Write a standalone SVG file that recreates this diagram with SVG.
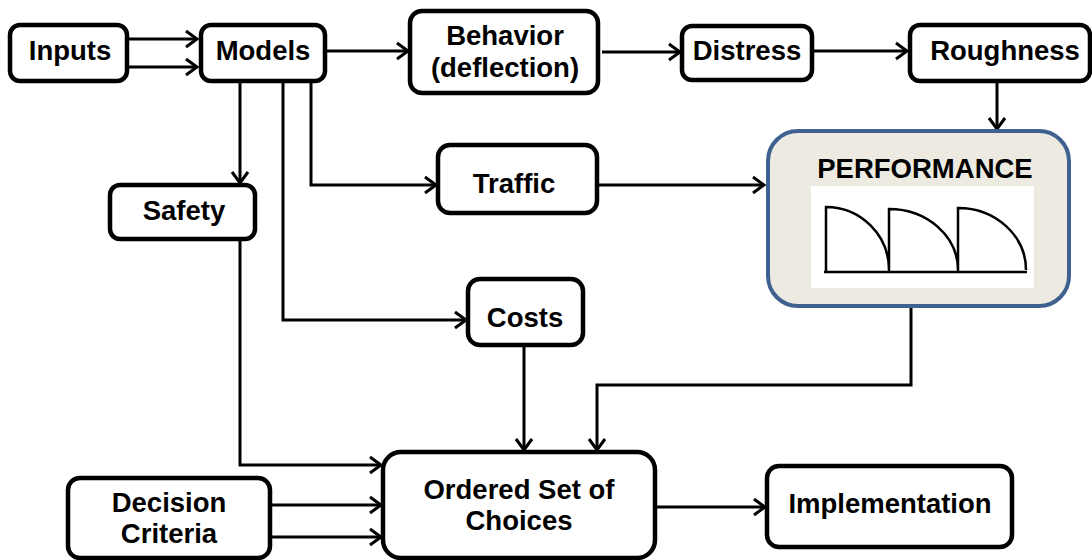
<svg xmlns="http://www.w3.org/2000/svg" width="1092" height="560" viewBox="0 0 1092 560">
<style>
.box{fill:#fff;stroke:#000;stroke-width:4.5}
.t{font-family:"Liberation Sans",Arial,sans-serif;font-weight:bold;font-size:27.5px;fill:#000;text-anchor:middle}
.c{fill:none;stroke:#000;stroke-width:3}
</style>
<defs>
<marker id="a" markerUnits="userSpaceOnUse" markerWidth="16" markerHeight="20" refX="13" refY="10" orient="auto" viewBox="0 0 16 20">
<path d="M2,2 L13,10 L2,18" fill="none" stroke="#000" stroke-width="3"/>
</marker>
</defs>
<rect width="1092" height="560" fill="#fff"/>
<g id="connectors">
<path class="c" d="M127,39 H197" marker-end="url(#a)"/>
<path class="c" d="M127,67 H197" marker-end="url(#a)"/>
<path class="c" d="M325,51 H408" marker-end="url(#a)"/>
<path class="c" d="M602,52 H680" marker-end="url(#a)"/>
<path class="c" d="M812,51 H907" marker-end="url(#a)"/>
<path class="c" d="M997,81 V129" marker-end="url(#a)"/>
<path class="c" d="M240,81 V183" marker-end="url(#a)"/>
<path class="c" d="M311,81 V185 H436" marker-end="url(#a)"/>
<path class="c" d="M283,81 V320 H466" marker-end="url(#a)"/>
<path class="c" d="M598,185 H764" marker-end="url(#a)"/>
<path class="c" d="M240,239 V465 H381" marker-end="url(#a)"/>
<path class="c" d="M524,345 V450" marker-end="url(#a)"/>
<path class="c" d="M911,306 V385 H597 V450" marker-end="url(#a)"/>
<path class="c" d="M270,505 H381" marker-end="url(#a)"/>
<path class="c" d="M270,537 H381" marker-end="url(#a)"/>
<path class="c" d="M655,507 H765" marker-end="url(#a)"/>
</g>
<g id="inputs"><rect class="box" x="10" y="25" width="117" height="56" rx="10"/><text class="t" x="70" y="60">Inputs</text></g>
<g id="models"><rect class="box" x="201" y="25" width="124" height="56" rx="10"/><text class="t" x="263" y="60">Models</text></g>
<g id="behavior"><rect class="box" x="410" y="11" width="188" height="82" rx="12"/><text class="t" x="505" y="45">Behavior</text><text class="t" x="505" y="77">(deflection)</text></g>
<g id="distress"><rect class="box" x="682" y="26" width="130" height="54" rx="10"/><text class="t" x="747" y="60">Distress</text></g>
<g id="roughness"><rect class="box" x="910" y="25" width="180" height="56" rx="10"/><text class="t" x="1005" y="60">Roughness</text></g>
<g id="traffic"><rect class="box" x="438" y="145" width="159" height="68" rx="12"/><text class="t" x="514" y="193">Traffic</text></g>
<g id="safety"><rect class="box" x="110" y="185" width="145" height="54" rx="10"/><text class="t" x="184" y="220">Safety</text></g>
<g id="costs"><rect class="box" x="468" y="279" width="115" height="66" rx="12"/><text class="t" x="525" y="327">Costs</text></g>
<g id="performance">
<rect x="768" y="131" width="301" height="175" rx="30" fill="#edebe1" stroke="#3f6190" stroke-width="4"/>
<text class="t" x="925" y="178">PERFORMANCE</text>
<rect x="811" y="186" width="223" height="102" fill="#fff"/>
<path d="M826,272 V207 A63,63 0 0 1 889,270 M889,272 V209 A69,61 0 0 1 958,270 M958,272 V208 A68,62 0 0 1 1026,270 M824,272 H1027" fill="none" stroke="#000" stroke-width="2.5"/>
</g>
<g id="decision"><rect class="box" x="68" y="478" width="202" height="80" rx="12"/><text class="t" x="169" y="512">Decision</text><text class="t" x="169" y="543">Criteria</text></g>
<g id="ordered"><rect class="box" x="383" y="452" width="272" height="106" rx="18"/><text class="t" x="519" y="499">Ordered Set of</text><text class="t" x="519" y="530">Choices</text></g>
<g id="implementation"><rect class="box" x="767" y="466" width="245" height="81" rx="12"/><text class="t" x="890" y="513">Implementation</text></g>
</svg>
